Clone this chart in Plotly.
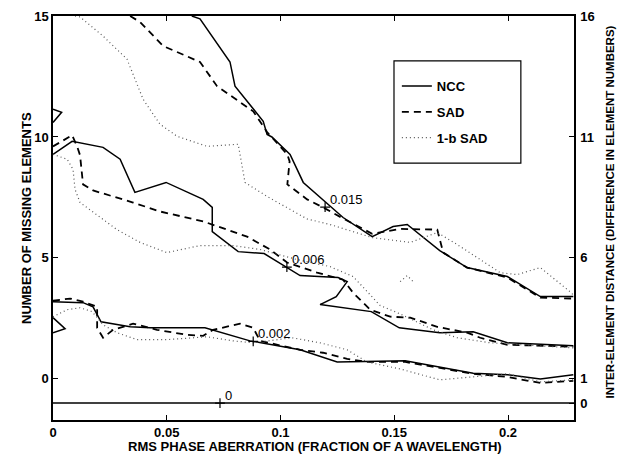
import plotly.graph_objects as go

# ---------------- data ----------------
# NCC contours
ncc_015_x = [0.061, 0.0646, 0.0778, 0.080, 0.0924, 0.0941, 0.0962, 0.1042, 0.110, 0.1218, 0.1275, 0.1403, 0.1495, 0.1557, 0.170, 0.182, 0.1997, 0.2142, 0.2287]
ncc_015_y = [15.0, 14.88, 13.1, 12.1, 10.65, 10.1, 10.0, 9.28, 8.12, 7.13, 6.67, 5.88, 6.3, 6.38, 5.3, 4.6, 4.23, 3.4, 3.4]
ncc_006_x = [0, 0.0084, 0.022, 0.0295, 0.036, 0.0497, 0.066, 0.070, 0.070, 0.0814, 0.0928, 0.1086, 0.1253, 0.1293, 0.1245, 0.1174, 0.1399, 0.1522, 0.170, 0.1847, 0.1997, 0.2287]
ncc_006_y = [9.28, 9.82, 9.57, 9.08, 7.71, 8.12, 7.42, 7.09, 6.09, 5.26, 5.18, 4.27, 4.19, 4.02, 3.40, 3.07, 2.78, 2.11, 1.91, 1.95, 1.49, 1.37]
ncc_002_x = [0, 0.0132, 0.0176, 0.0211, 0.0339, 0.0427, 0.0668, 0.0866, 0.1086, 0.1249, 0.1548, 0.1847, 0.1997, 0.2142, 0.2287]
ncc_002_y = [3.19, 3.15, 2.98, 2.36, 2.15, 2.11, 2.11, 1.57, 1.20, 0.70, 0.75, 0.23, 0.17, 0.0, 0.17]
ncc_islandA_x = [0, 0.0038, 0]
ncc_islandA_y = [11.15, 11.02, 10.6]
ncc_islandB_x = [0, 0.0053, 0]
ncc_islandB_y = [2.53, 2.07, 1.91]
ncc_000_x = [0, 0.229]
ncc_000_y = [-1.0, -1.0]

# SAD contours
sad_015_x = [0.0339, 0.0383, 0.0484, 0.0646, 0.0721, 0.088, 0.0941, 0.103, 0.104, 0.103, 0.1117, 0.1187, 0.1275, 0.1403, 0.1526, 0.1689, 0.1715, 0.182, 0.1997, 0.2142, 0.2287]
sad_015_y = [15.0, 14.75, 13.76, 13.1, 12.1, 11.06, 10.2, 9.28, 8.99, 8.04, 7.42, 7.09, 6.63, 6.0, 6.2, 6.17, 5.22, 4.6, 4.19, 3.36, 3.32]
sad_006_x = [0, 0.0084, 0.0106, 0.0119, 0.0132, 0.0176, 0.0352, 0.047, 0.066, 0.0734, 0.0853, 0.0954, 0.1029, 0.1161, 0.1275, 0.1319, 0.1394, 0.1482, 0.157, 0.1689, 0.182, 0.1878, 0.1997, 0.2287]
sad_006_y = [9.61, 10.07, 9.61, 9.24, 8.04, 7.79, 7.29, 6.92, 6.51, 6.26, 5.88, 5.35, 4.81, 4.39, 4.10, 3.56, 2.86, 2.57, 2.53, 2.15, 1.91, 1.70, 1.41, 1.33]
sad_002_x = [0, 0.0075, 0.0132, 0.0194, 0.0194, 0.022, 0.0264, 0.0352, 0.0457, 0.0589, 0.066, 0.0704, 0.0822, 0.088, 0.091, 0.1086, 0.1187, 0.1293, 0.138, 0.1548, 0.1847, 0.1997, 0.2142, 0.2287]
sad_002_y = [3.23, 3.32, 3.19, 2.98, 2.11, 1.70, 2.03, 2.28, 2.03, 1.82, 1.78, 2.03, 2.28, 2.11, 1.57, 1.20, 1.08, 0.83, 0.70, 0.70, 0.21, 0.08, -0.17, -0.08]

# 1-b SAD contours
b1_015_x = [0.0097, 0.0119, 0.022, 0.0325, 0.0396, 0.047, 0.0545, 0.0677, 0.0814, 0.0844, 0.0941, 0.1117, 0.1218, 0.1403, 0.157, 0.1689, 0.1777, 0.1966, 0.204, 0.2142, 0.2273, 0.229]
b1_015_y = [15.0, 14.96, 14.17, 13.22, 11.56, 10.53, 10.03, 9.61, 9.70, 8.12, 7.54, 6.61, 6.38, 5.84, 5.64, 6.05, 5.55, 4.39, 4.31, 4.6, 3.6, 3.44]
b1_006_x = [0, 0.0062, 0.0088, 0.0097, 0.0119, 0.0207, 0.0281, 0.0383, 0.050, 0.0646, 0.0792, 0.091, 0.1073, 0.1218, 0.1319, 0.1381, 0.1438, 0.1513, 0.1671, 0.1777, 0.1922, 0.2287]
b1_006_y = [9.28, 9.08, 8.66, 7.83, 7.29, 6.67, 6.17, 5.64, 5.22, 5.51, 5.51, 5.35, 4.93, 4.64, 4.23, 3.61, 3.03, 2.74, 2.03, 1.70, 1.49, 1.28]
b1_002_x = [0, 0.0062, 0.0119, 0.0172, 0.022, 0.0281, 0.0369, 0.050, 0.0677, 0.0792, 0.088, 0.1051, 0.1174, 0.1293, 0.138, 0.1526, 0.170, 0.1847, 0.1997, 0.2142, 0.2287]
b1_002_y = [2.57, 2.86, 2.94, 2.78, 2.24, 1.91, 1.62, 1.62, 1.74, 1.57, 1.49, 1.70, 1.49, 1.20, 0.70, 0.41, -0.04, 0.08, 0.21, -0.12, -0.04]
b1_island_x = [0.1526, 0.1557, 0.1583]
b1_island_y = [4.02, 4.27, 4.02]

# contour labels
label_x = [0.1196, 0.1028, 0.088, 0.0734]
label_y = [7.1, 4.62, 1.55, -1.0]
label_text = ["0.015", "0.006", "0.002", "0"]

# axes
x_ticks = [0, 0.05, 0.1, 0.15, 0.2]
x_ticktext = ["0", "0.05", "0.1", "0.15", "0.2"]
y_ticks = [0, 5, 10, 15]
y2_ticks = [0, 1, 6, 11, 16]
x_title = "RMS PHASE ABERRATION (FRACTION OF A WAVELENGTH)"
y_title = "NUMBER OF MISSING ELEMENTS"
y2_title = "INTER-ELEMENT DISTANCE (DIFFERENCE IN ELEMENT NUMBERS)"

FONT = "Liberation Sans, Arial, sans-serif"

styles = {
    "NCC": dict(color="black", width=1.5, dash="solid"),
    "SAD": dict(color="black", width=1.8, dash="7px,5px"),
    "1-b SAD": dict(color="#555555", width=1.2, dash="1px,3px"),
}

fig = go.Figure()

def add(name, xs, ys, show):
    fig.add_trace(go.Scatter(
        x=xs, y=ys, mode="lines", name=name, legendgroup=name,
        showlegend=show, line=styles[name], hoverinfo="skip"))

add("NCC", ncc_015_x, ncc_015_y, True)
add("NCC", ncc_006_x, ncc_006_y, False)
add("NCC", ncc_002_x, ncc_002_y, False)
add("NCC", ncc_islandA_x, ncc_islandA_y, False)
add("NCC", ncc_islandB_x, ncc_islandB_y, False)
add("NCC", ncc_000_x, ncc_000_y, False)
add("SAD", sad_015_x, sad_015_y, True)
add("SAD", sad_006_x, sad_006_y, False)
add("SAD", sad_002_x, sad_002_y, False)
add("1-b SAD", b1_015_x, b1_015_y, True)
add("1-b SAD", b1_006_x, b1_006_y, False)
add("1-b SAD", b1_002_x, b1_002_y, False)
add("1-b SAD", b1_island_x, b1_island_y, False)

# contour-label "+" markers
fig.add_trace(go.Scatter(
    x=label_x, y=label_y, mode="markers", showlegend=False, hoverinfo="skip",
    marker=dict(symbol="cross-thin", size=7, line=dict(color="black", width=1.2))))

# invisible trace to anchor right axis
fig.add_trace(go.Scatter(x=[0], y=[0], yaxis="y2", mode="markers",
                         marker=dict(opacity=0), showlegend=False, hoverinfo="skip"))

tickfont = dict(family=FONT, size=13, color="black", weight="bold")

annotations = [
    dict(text=x_title, xref="paper", yref="paper", x=0.503, y=-0.0668,
         xanchor="center", yanchor="middle", showarrow=False,
         font=dict(family=FONT, size=13, weight="bold", color="black")),
    dict(text=y_title, xref="paper", yref="paper", x=-0.0518, y=0.50,
         xanchor="center", yanchor="middle", showarrow=False, textangle=-90,
         font=dict(family=FONT, size=13, weight="bold", color="black")),
    dict(text=y2_title, xref="paper", yref="paper", x=1.069, y=0.516,
         xanchor="center", yanchor="middle", showarrow=False, textangle=-90,
         font=dict(family=FONT, size=11.5, weight="bold", color="black")),
]
for lx, ly, lt in zip(label_x, label_y, label_text):
    annotations.append(dict(text=lt, x=lx, y=ly, xref="x", yref="y",
                            xanchor="left", yanchor="middle", xshift=3, yshift=8,
                            showarrow=False,
                            font=dict(family=FONT, size=13, color="black")))

fig.update_layout(
    width=627, height=454,
    margin=dict(l=53, r=53, t=16, b=34),
    paper_bgcolor="white", plot_bgcolor="white",
    font=dict(family=FONT, size=12, color="black"),
    xaxis=dict(range=[0, 0.229], tickvals=x_ticks, ticktext=x_ticktext,
               ticks="inside", ticklen=5, tickcolor="black", tickfont=tickfont,
               ticklabelstandoff=0, automargin=False,
               showline=True, linecolor="black", linewidth=1.5, mirror="ticks",
               showgrid=False, zeroline=False),
    yaxis=dict(range=[-1.7, 15], tickvals=y_ticks, ticks="inside", ticklen=5,
               tickcolor="black", tickfont=tickfont, automargin=False,
               showline=True, linecolor="black", linewidth=1.5,
               showgrid=False, zeroline=False),
    yaxis2=dict(range=[-0.7, 16], tickvals=y2_ticks, ticks="inside", ticklen=5,
                tickcolor="black", tickfont=tickfont, ticklabelstandoff=2,
                automargin=False,
                showline=True, linecolor="black", linewidth=1.5,
                overlaying="y", side="right", showgrid=False, zeroline=False),
    legend=dict(x=0.660, y=0.864, xanchor="left", yanchor="top",
                borderwidth=0, bgcolor="rgba(0,0,0,0)",
                font=dict(family=FONT, size=13, color="black", weight="bold"),
                tracegroupgap=6, itemwidth=30),
    shapes=[dict(type="rect", xref="paper", yref="paper",
                 x0=0.6545, x1=0.898, y0=0.636, y1=0.889,
                 line=dict(color="black", width=1.2), fillcolor="white",
                 layer="above")],
    annotations=annotations,
    showlegend=True,
)

fig.write_html("out.html")
